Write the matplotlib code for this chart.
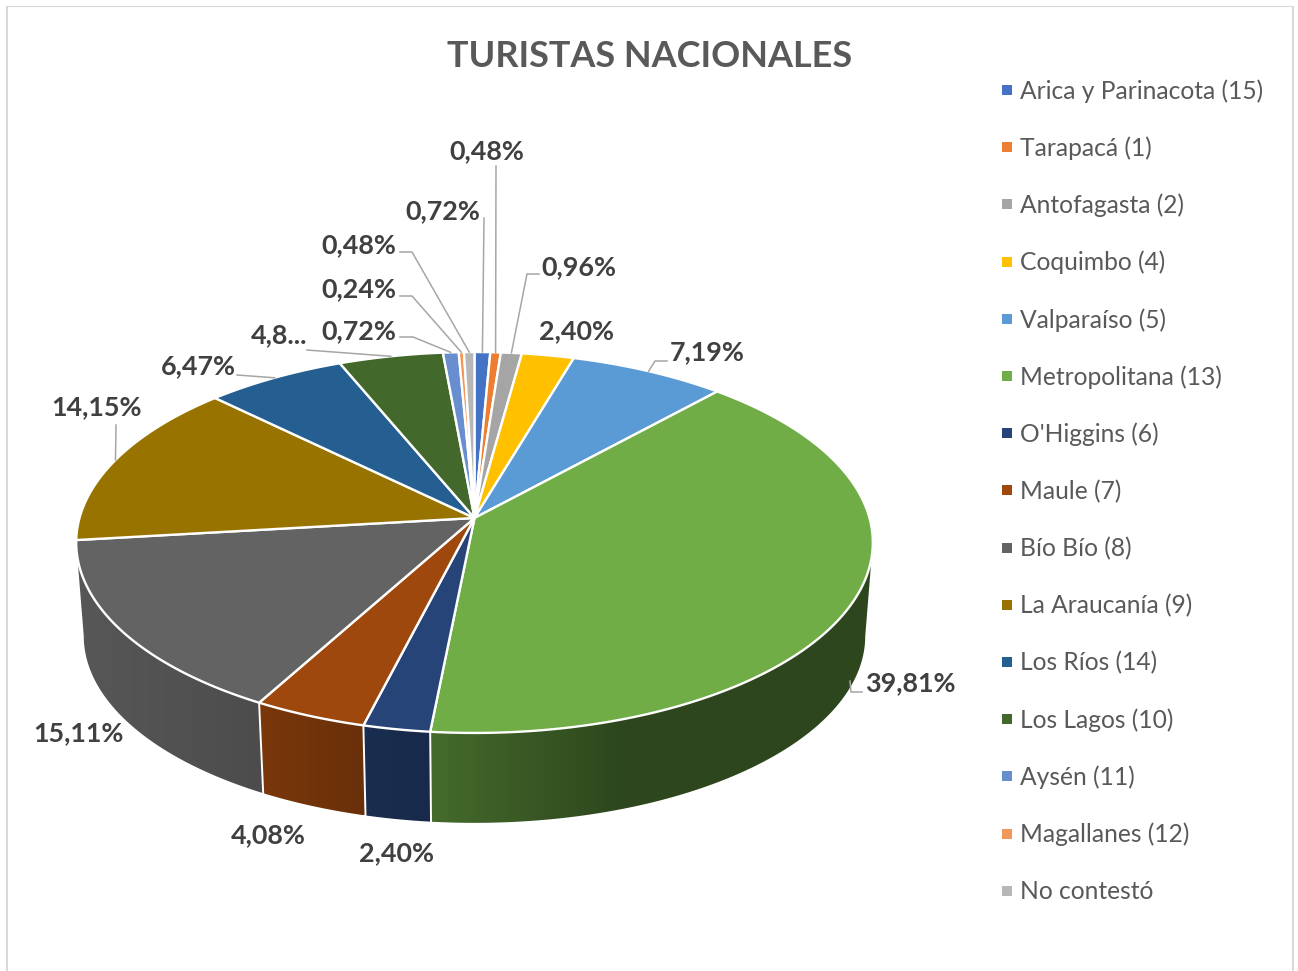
import numpy as np
import matplotlib
matplotlib.use('Agg')
import matplotlib.pyplot as plt
from matplotlib.patches import Polygon, Rectangle

plt.rcParams['font.family'] = ['Lato', 'DejaVu Sans']

regions = ['Arica y Parinacota (15)', 'Tarapacá (1)', 'Antofagasta (2)', 'Coquimbo (4)',
           'Valparaíso (5)', 'Metropolitana (13)', "O'Higgins (6)", 'Maule (7)',
           'Bío Bío (8)', 'La Araucanía (9)', 'Los Ríos (14)', 'Los Lagos (10)',
           'Aysén (11)', 'Magallanes (12)', 'No contestó']
shares = [0.72, 0.48, 0.96, 2.40, 7.19, 39.81, 2.40, 4.08, 15.11, 14.15, 6.47, 4.79, 0.72, 0.24, 0.48]
colors = ['#4472C4', '#ED7D31', '#A5A5A5', '#FFC000', '#5B9BD5', '#70AD47', '#264478', '#9E480E',
          '#636363', '#997300', '#255E91', '#43682B', '#698ED0', '#F1975A', '#B7B7B7']

# label centre and leader elbow points in pixels, None = no leader
label_pos = [(443, 211), (487, 151), (579, 267), (577, 331), (707, 352), (910, 683), (397, 853),
             (268, 835), (78, 733), (97, 407), (198, 366), (279, 335), (359, 331), (359, 289), (359, 245)]
leaders = [[(484, 218)], [(496, 166)], [(539, 274), (527, 274)], None, [(667, 361), (655, 361)],
           [(862, 692), (851, 692)], None, None, None, [(116, 425)], [(237, 375)],
           [(307, 350)], [(400, 337), (413, 337)], [(400, 296), (412, 296)], [(400, 252), (412, 252)]]

W, H = 1298, 971
cx, cy = 474.5, 518
kx, ky, persp = 395, 187.3, 0.1286
depth, shrink = 94, 0.981
t_right = np.arccos(-persp)
t_left = 2 * np.pi - t_right


def project(t, drop=0.0, s=1.0):
    # t in radians, clockwise from 12 o'clock
    xx = np.sin(t)
    yy = np.cos(t)
    d = 1 + persp * yy
    return cx + s * kx * xx / d, cy + drop - s * ky * yy / d


def wall_factor(x):
    return np.interp(x, [80, 260, 360, 430, 620, 870], [0.88, 0.77, 0.67, 0.62, 0.41, 0.41])


fig = plt.figure(figsize=(W / 100, H / 100), dpi=100)
ax = fig.add_axes([0, 0, 1, 1])

edges = np.cumsum([0] + shares) / sum(shares) * 2 * np.pi

# chart frame, open at the bottom
ax.plot([7, 7], [6, H], color='#d9d9d9', lw=1.44, solid_capstyle='butt')
ax.plot([1293, 1293], [6, H], color='#d9d9d9', lw=1.44, solid_capstyle='butt')
ax.plot([7, 1293], [6.5, 6.5], color='#d9d9d9', lw=0.8, solid_capstyle='butt')

# side wall, back slices first so the front ones cover them
order = sorted(range(len(shares)), key=lambda i: np.cos((edges[i] + edges[i + 1]) / 2), reverse=True)
for i in order:
    a = max(edges[i], t_right)
    b = min(edges[i + 1], t_left)
    if b <= a:
        continue
    ts = np.linspace(a, b, 120)
    x1, y1 = project(ts)
    x2, y2 = project(ts[::-1], drop=depth, s=shrink)
    pts = np.column_stack([np.r_[x1, x2], np.r_[y1, y2]])
    xmin, xmax = pts[:, 0].min(), pts[:, 0].max()
    grad_x = np.linspace(xmin, xmax, 256)
    rgb = np.array(matplotlib.colors.to_rgb(colors[i]))
    grad = np.outer(wall_factor(grad_x), rgb)[np.newaxis, :, :]
    im = ax.imshow(grad, extent=[xmin, xmax, pts[:, 1].max(), pts[:, 1].min()], aspect='auto',
                   interpolation='bilinear', zorder=2)
    im.set_clip_path(Polygon(pts, closed=True, transform=ax.transData))

ax.set_xlim(0, W)
ax.set_ylim(H, 0)
ax.axis('off')

# white seams on the front of the wall
for e in edges:
    if np.cos(e) < -0.24:
        x1, y1 = project(e)
        x2, y2 = project(e, drop=depth, s=shrink)
        ax.plot([x1, x2], [y1, y2], color='white', lw=1.4, zorder=3)

# top face
for i, col in enumerate(colors):
    n = max(2, int(np.degrees(edges[i + 1] - edges[i]) * 2) + 2)
    ts = np.linspace(edges[i], edges[i + 1], n)
    xs, ys = project(ts)
    pts = [(cx, cy)] + list(zip(xs, ys))
    ax.add_patch(Polygon(pts, closed=True, facecolor=col, edgecolor='white', lw=1.7,
                         joinstyle='round', zorder=4))

# value labels and leaders
for i, v in enumerate(shares):
    txt = f'{v:.2f}'.replace('.', ',') + '%'
    if regions[i].startswith('Los Lagos'):
        txt = '4,8...'
    ax.text(label_pos[i][0], label_pos[i][1], txt, fontsize=19.4, fontweight='bold', color='#404040',
            ha='center', va='center', zorder=6)
    if leaders[i] is not None:
        mid = (edges[i] + edges[i + 1]) / 2
        ex, ey = project(mid)
        if regions[i].startswith('Metropolitana'):
            ex, ey = 850, 681
        px = [p[0] for p in leaders[i]] + [ex]
        py = [p[1] for p in leaders[i]] + [ey]
        ax.plot(px, py, color='#a6a6a6', lw=1.1, zorder=5)

ax.text(649.5, 56.5, 'TURISTAS NACIONALES', fontsize=25.9, fontweight='bold', color='#595959',
        ha='center', va='center')

# legend
for i, name in enumerate(regions):
    y = 90 + i * 57.2
    ax.add_patch(Rectangle((1002, y - 5), 10, 10, facecolor=colors[i], edgecolor='none'))
    ax.text(1020, y + 1, name, fontsize=17.75, color='#595959', ha='left', va='center')

fig.savefig('out.png', dpi=100)
